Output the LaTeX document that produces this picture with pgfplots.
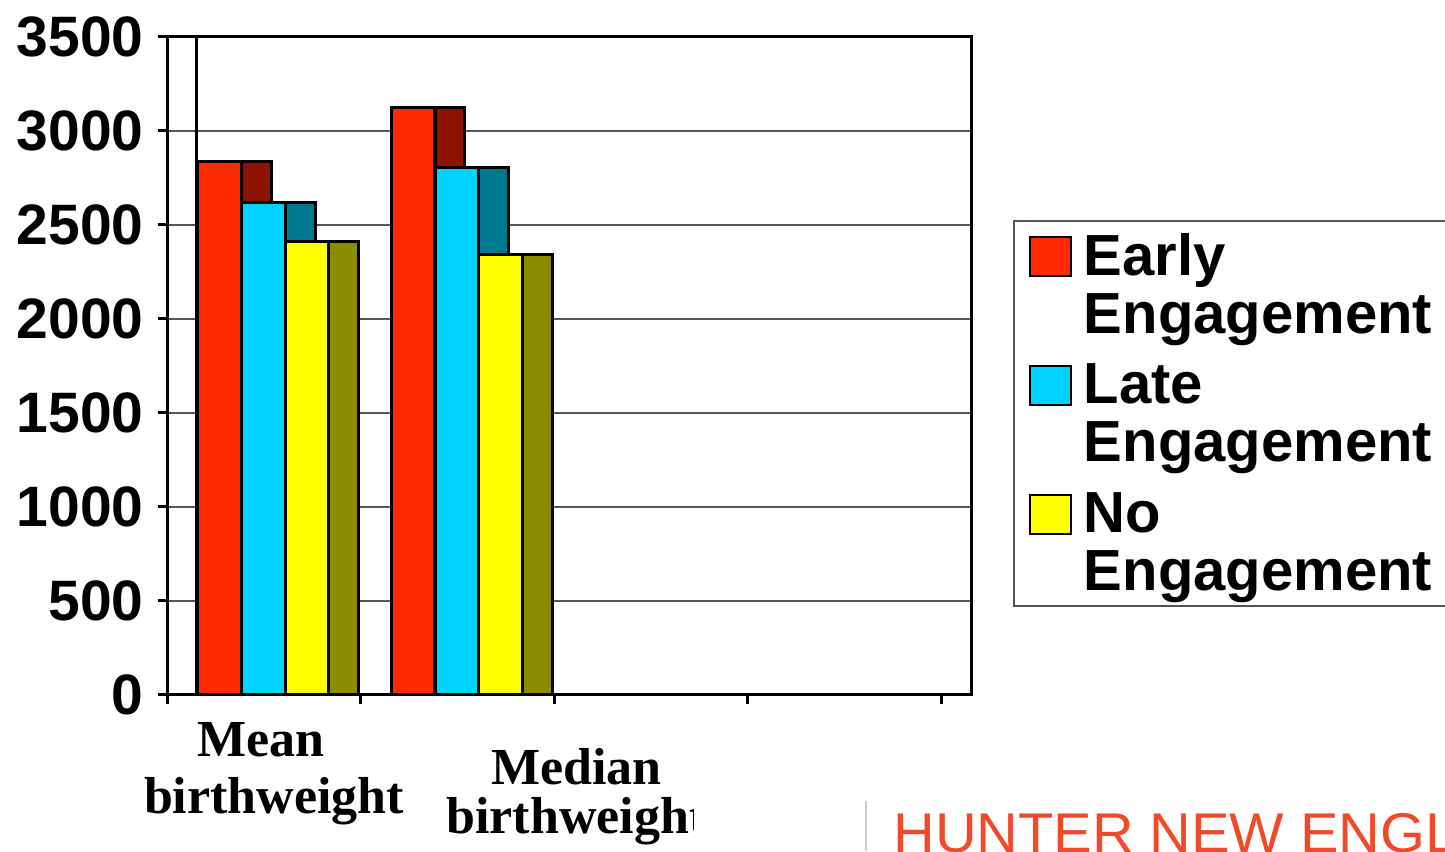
\documentclass[border=0pt]{standalone}
\usepackage{fontspec}
\setmainfont{Liberation Sans}
\newfontfamily\labelfont{Liberation Serif}
\usepackage{pgfplots}
\pgfplotsset{compat=1.18}

\definecolor{earlyF}{HTML}{FF2A00}
\definecolor{earlyS}{HTML}{8E1200}
\definecolor{lateF}{HTML}{00D2FF}
\definecolor{lateS}{HTML}{007890}
\definecolor{noF}{HTML}{FFFF00}
\definecolor{noS}{HTML}{8C8C00}
\definecolor{gridgray}{HTML}{555555}
\definecolor{hneRed}{HTML}{F04A2A}

\begin{document}
\begin{tikzpicture}
\useasboundingbox (0,0) rectangle (722.5pt,425.5pt);
\clip (0,0) rectangle (722.5pt,425.5pt);
\begin{axis}[
    at={(83.5pt,78pt)}, anchor=south west,
    scale only axis, width=402pt, height=329pt,
    xmin=0, xmax=4.155, ymin=0, ymax=3500,
    ytick={0,500,...,3500},
    xtick={0,1,2,3,4}, xticklabels={},
    tick pos=left, tick align=outside, major tick length=4.5pt,
    axis line style={line width=1.5pt},
    tick style={line width=1.5pt, black},
    ymajorgrids, grid style={draw=gridgray, line width=1pt},
    ybar, bar shift=0pt,
    /pgf/number format/assume math mode=true,
    /pgf/number format/1000 sep={},
    yticklabel style={font=\fontsize{28.5}{28.5}\selectfont\bfseries, inner sep=0pt, xshift=-7pt},
    legend cell align=left,
    legend image code/.code={\draw[#1, line width=1pt] (0pt,4.5pt) rectangle (20.5pt,24pt);},
    legend style={at={(1.0522,0.7219)}, anchor=north west,
        draw=gridgray, line width=1pt, inner xsep=7.5pt, inner ysep=6pt,
        font=\fontsize{29}{29}\selectfont\bfseries,
        row sep=14pt, column sep=6pt,
        nodes={inner sep=0pt, align=left}},
]
% early engagement: side face, then front face
\addplot[forget plot, fill=earlyS, draw=black, line width=1.5pt, bar width=0.155]
    coordinates {(0.4625,2840) (1.4625,3125)};
\addplot[fill=earlyF, draw=black, line width=1.5pt, bar width=0.2248]
    coordinates {(0.2725,2840) (1.2725,3125)};
\addlegendentry{Early\\Engagement\hspace*{6pt}}
% late engagement
\addplot[forget plot, fill=lateS, draw=black, line width=1.5pt, bar width=0.155]
    coordinates {(0.6875,2620) (1.6875,2805)};
\addplot[fill=lateF, draw=black, line width=1.5pt, bar width=0.2248]
    coordinates {(0.4975,2620) (1.4975,2805)};
\addlegendentry{Late\\Engagement}
% no engagement
\addplot[forget plot, fill=noS, draw=black, line width=1.5pt, bar width=0.155]
    coordinates {(0.9125,2410) (1.9125,2345)};
\addplot[fill=noF, draw=black, line width=1.5pt, bar width=0.2248]
    coordinates {(0.7225,2410) (1.7225,2345)};
\addlegendentry{No\\Engagement\vrule width 0pt height 10pt depth 12pt}
% back wall edge
\draw[black, line width=1.5pt] (axis cs:0.155,0) -- (axis cs:0.155,3500);
\end{axis}

% category labels
\begin{scope}[font=\labelfont\fontsize{26}{26}\selectfont\bfseries]
\node[anchor=base, inner sep=0pt] at (130.5pt,47pt) {Mean};
\node[anchor=base, inner sep=0pt] at (137pt,19pt) {birthweight};
\node[anchor=base, inner sep=0pt] at (288.25pt,33pt) {Median};
\begin{scope}
\clip (200pt,0pt) rectangle (346.5pt,30pt);
\node[anchor=base west, inner sep=0pt] at (223pt,9pt) {birthweight};
\end{scope}
\end{scope}

% logo fragment
\draw[gray!40, line width=1pt] (433pt,0pt) -- (433pt,25pt);
\node[anchor=base west, inner sep=0pt, text=hneRed, font=\fontsize{28}{28}\selectfont]
    at (446.5pt,-1pt) {\scalebox{1.03}[1]{HUNTER NEW ENGL}};
\end{tikzpicture}
\end{document}
